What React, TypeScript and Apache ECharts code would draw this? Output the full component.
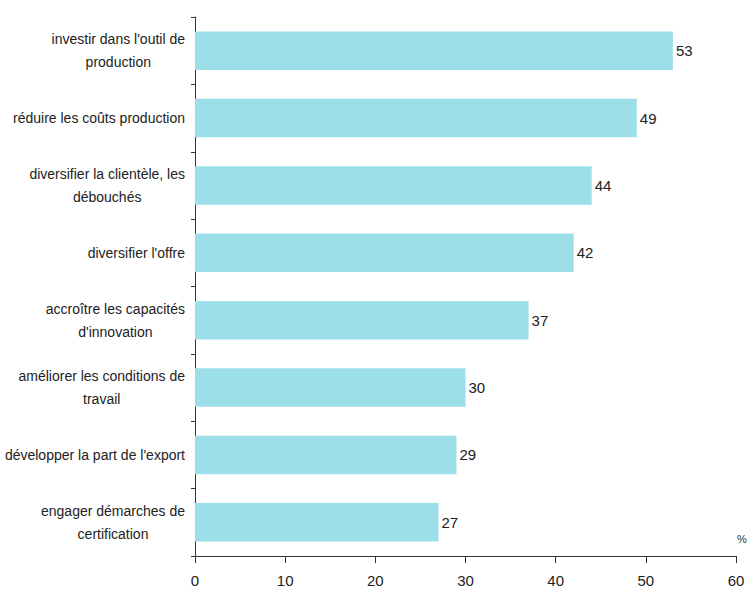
import React, { useEffect, useRef } from "react";
import * as echarts from "echarts";

const categories = [
  "investir dans l'outil de\nproduction",
  "réduire les coûts production",
  "diversifier la clientèle, les\ndébouchés",
  "diversifier l'offre",
  "accroître les capacités\nd'innovation",
  "améliorer les conditions de\ntravail",
  "développer la part de l'export",
  "engager démarches de\ncertification",
];
const values = [53, 49, 44, 42, 37, 30, 29, 27];
const xTicks = [0, 10, 20, 30, 40, 50, 60];

const FONT = "'Liberation Sans Narrow', 'Arial Narrow', 'Liberation Sans', Arial, sans-serif";

export default function App() {
  const ref = useRef<HTMLDivElement>(null);
  useEffect(() => {
    if (!ref.current) return;
    const chart = echarts.init(ref.current, undefined, { renderer: "svg" });
    chart.setOption({
      animation: false,
      grid: {
        left: 195,
        right: 11,
        top: 17,
        bottom: 41,
        containLabel: false,
        outerBoundsMode: "none",
      },
      xAxis: {
        type: "value",
        min: xTicks[0],
        max: xTicks[xTicks.length - 1],
        interval: 10,
        splitLine: { show: false },
        axisLine: { show: true, lineStyle: { color: "#333", width: 1 } },
        axisTick: { show: true, length: 7, inside: false, lineStyle: { color: "#333" } },
        axisLabel: { margin: 17, fontSize: 15, color: "#222", fontFamily: FONT },
      },
      yAxis: {
        type: "category",
        inverse: true,
        data: categories,
        axisLine: { show: true, lineStyle: { color: "#333", width: 1 } },
        axisTick: { show: true, length: 4, lineStyle: { color: "#333" } },
        axisLabel: {
          margin: 10,
          color: "#222",
          align: "right",
          formatter: (v: string) =>
            v.split("\n").map((l) => "{a|" + l + "}").join("\n"),
          rich: {
            a: {
              align: "center",
              fontSize: 14,
              lineHeight: 23,
              color: "#222",
              fontFamily: FONT,
            },
          },
        },
      },
      series: [
        {
          type: "bar",
          data: values,
          barCategoryGap: "43%",
          itemStyle: { color: "#9DDFE9" },
          label: {
            show: true,
            position: "right",
            distance: 3,
            fontSize: 15,
            color: "#222",
            fontFamily: FONT,
          },
        },
      ],
      graphic: [
        {
          type: "text",
          left: 737,
          top: 533,
          style: { text: "%", fontSize: 11, fill: "#333", fontFamily: FONT },
        },
      ],
    });
    return () => chart.dispose();
  }, []);
  return <div ref={ref} style={{ width: 747, height: 597, position: "absolute", left: 0, top: 0 }} />;
}
